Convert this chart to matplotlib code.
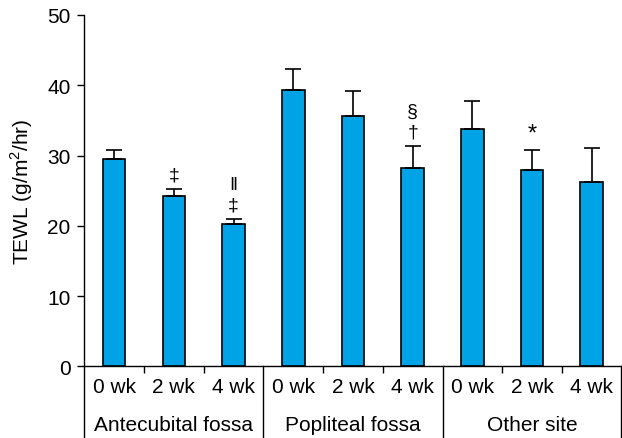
import matplotlib
matplotlib.use("Agg")
import matplotlib.pyplot as plt
import matplotlib.transforms as mtransforms

plt.rcParams["font.family"] = ["Liberation Sans", "DejaVu Sans"]
plt.rcParams["mathtext.fontset"] = "custom"
plt.rcParams["mathtext.rm"] = "Liberation Sans"

# data
sites = ["Antecubital fossa", "Popliteal fossa", "Other site"]
weeks = ["0 wk", "2 wk", "4 wk"]
tewl_mean = [29.5, 24.3, 20.3, 39.3, 35.6, 28.2, 33.8, 27.9, 26.3]
tewl_err = [1.3, 0.9, 0.7, 3.0, 3.6, 3.2, 4.0, 2.9, 4.7]
# significance marks: (bar index, marks from bottom to top)
marks = {1: ["\u2021"], 2: ["\u2021", "\u2016"], 5: ["\u2020", "\u00a7"], 7: ["*"]}

fig = plt.figure(figsize=(6.22, 4.39), dpi=100)
ax = fig.add_axes([0.1355, 0.1633, 0.864, 0.8003])

x = list(range(len(tewl_mean)))
ax.bar(x, tewl_mean, width=0.38, color="#00A3E6", edgecolor="black", linewidth=1.2,
       yerr=[[0] * len(tewl_err), tewl_err], capsize=6,
       error_kw={"elinewidth": 1.2, "capthick": 1.2, "ecolor": "black"}, zorder=2)

for i, syms in marks.items():
    top = tewl_mean[i] + tewl_err[i]
    for k, s in enumerate(syms):
        off = 14 + 20 * k if s != "*" else 5
        ax.annotate(s, (i, top), xytext=(0, off), textcoords="offset pixels",
                    ha="center", va="bottom" if s == "*" else "center",
                    fontsize=14 if s != "*" else 17)

ax.set_xlim(-0.5, 8.5)
ax.set_ylim(0, 50)
ax.set_yticks(range(0, 51, 10))
ax.set_xticks([0.5, 1.5, 3.5, 4.5, 6.5, 7.5])
ax.set_xticklabels([])
ax.tick_params(axis="both", direction="out", length=5, width=1.0, labelsize=15, pad=5)
ax.set_ylabel("TEWL (g/m$^\\mathregular{2}$/hr)", fontsize=15, labelpad=9)

for side in ["top", "right"]:
    ax.spines[side].set_visible(False)
for side in ["left", "bottom"]:
    ax.spines[side].set_linewidth(1.0)

trans = mtransforms.blended_transform_factory(ax.transData, ax.transAxes)
for xd in [-0.5, 2.5, 5.5, 8.49]:
    ax.plot([xd, xd], [0, -0.21], transform=trans, color="black", lw=1.0, clip_on=False)

for i in x:
    ax.text(i, -0.057, weeks[i % 3], transform=trans, ha="center", va="center", fontsize=15)
for g, name in enumerate(sites):
    ax.text(3 * g + 1, -0.167, name, transform=trans, ha="center", va="center", fontsize=15)

fig.savefig("out.png", dpi=100)
